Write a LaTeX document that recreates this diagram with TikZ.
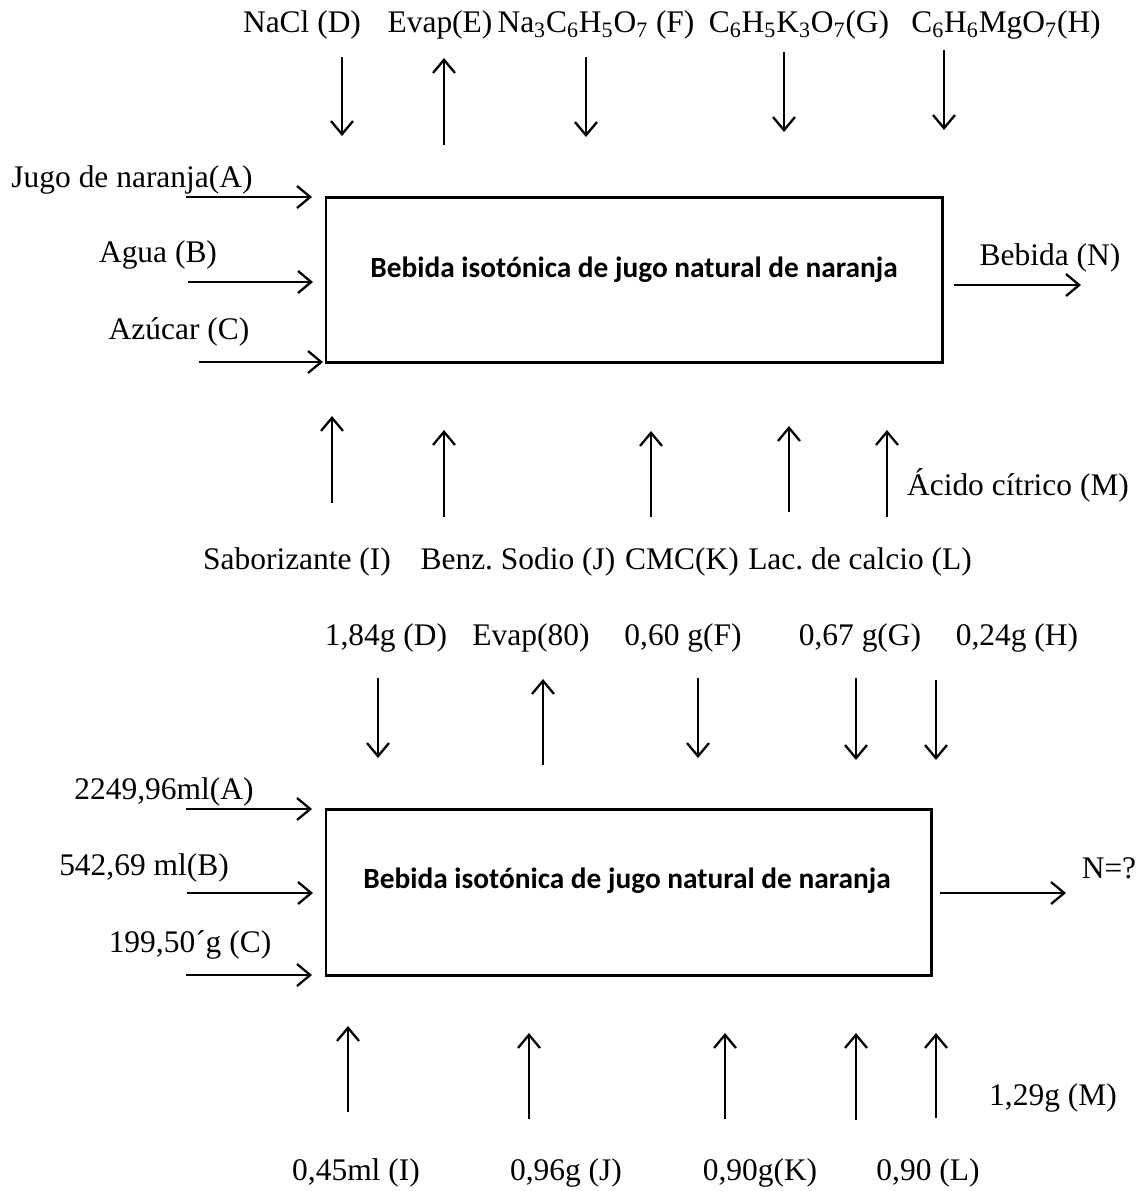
\documentclass[tikz,border=0pt]{standalone}
\usepackage{fontspec}
\setmainfont{Liberation Serif}
\newfontfamily\boxfont{Carlito}
\usetikzlibrary{arrows.meta}
\frenchspacing

\begin{document}
\begin{tikzpicture}
  [x=0.02cm, y=-0.02cm,
   lbl/.style={inner sep=0pt, font=\fontsize{17.9}{20}\selectfont},
   procbox/.style={draw=black, line width=1.7pt, inner sep=0pt},
   title/.style={inner sep=0pt, font=\boxfont\bfseries\fontsize{16.7}{19}\selectfont},
   flow/.style={line width=1.3pt, -{Straight Barb[length=7.5pt, width=12.5pt, line width=1.3pt]}}]

  \useasboundingbox (0,0) rectangle (1139,1191);

  % first balance: names
  \node[lbl] (tD) at (302,25) {NaCl (D)};
  \node[lbl] (tE) at (440,25) {Evap(E)};
  \node[lbl] (tF) at (596,25) {Na\textsubscript{3}C\textsubscript{6}H\textsubscript{5}O\textsubscript{7} (F)};
  \node[lbl] (tG) at (799,25) {C\textsubscript{6}H\textsubscript{5}K\textsubscript{3}O\textsubscript{7}(G)};
  \node[lbl] (tH) at (1006,25) {C\textsubscript{6}H\textsubscript{6}MgO\textsubscript{7}(H)};

  \node[lbl] (tA) at (132,180) {Jugo de naranja(A)};
  \node[lbl] (tB) at (158,255) {Agua (B)};
  \node[lbl] (tC) at (179,332) {Azúcar (C)};
  \node[lbl] (tN) at (1050,258) {Bebida (N)};

  \node[procbox, minimum width=616*0.02cm, minimum height=165*0.02cm] (box1) at (634,279.5) {};
  \node[title] (ttl1) at (634,270) {Bebida isotónica de jugo natural de naranja};

  \node[lbl] (tI) at (297,562) {Saborizante (I)};
  \node[lbl] (tJ) at (518,562) {Benz. Sodio (J)};
  \node[lbl] (tK) at (682,562) {CMC(K)};
  \node[lbl] (tL) at (860,562) {Lac. de calcio (L)};
  \node[lbl] (tM) at (1018,485) {Ácido cítrico (M)};

  % second balance: amounts
  \node[lbl] (qD) at (386,638) {1,84g (D)};
  \node[lbl] (qE) at (531,638) {Evap(80)};
  \node[lbl] (qF) at (683,638) {0,60 g(F)};
  \node[lbl] (qG) at (860,638) {0,67 g(G)};
  \node[lbl] (qH) at (1017,638) {0,24g (H)};

  \node[lbl] (qA) at (164,792) {2249,96ml(A)};
  \node[lbl] (qB) at (144,868) {542,69 ml(B)};
  \node[lbl] (qC) at (190,945) {199,50´g (C)};
  \node[lbl] (qN) at (1109,868) {N=?};

  \node[procbox, minimum width=605*0.02cm, minimum height=166*0.02cm] (box2) at (628.5,892) {};
  \node[title] (ttl2) at (627,881) {Bebida isotónica de jugo natural de naranja};

  \node[lbl] (qI) at (356,1173) {0,45ml (I)};
  \node[lbl] (qJ) at (566,1173) {0,96g (J)};
  \node[lbl] (qK) at (760,1173) {0,90g(K)};
  \node[lbl] (qL) at (928,1173) {0,90 (L)};
  \node[lbl] (qM) at (1053,1098) {1,29g (M)};

  % vertical streams
  \foreach \n/\x/\ya/\yb in {aD/342/57/136, aE/444/145/58, aF/586/57/137, aG/784/52/132, aH/944/50/130,
                             aI/332/503/416, aJ/444/517/430, aK/651/517/431, aL/789/512/426, aM/887/517/430,
                             bD/378/678/758, bE/543/765/679, bF/698/678/758, bG/856/678/760, bH/936/680/760,
                             bI/348/1112/1026, bJ/529/1119/1033, bK/725/1119/1033, bL/856/1120/1033, bM/936/1118/1033}
  {
    \coordinate (\n s) at (\x,\ya);
    \coordinate (\n e) at (\x,\yb);
    \draw[flow] (\n s) -- (\n e);
  }

  % horizontal streams
  \foreach \n/\xa/\xb/\y in {aA/186/312/197, aB/188/313/282, aC/199/323/362, aN/954/1081/285,
                             bA/186/312/809, bB/187/313/893, bC/186/312/975, bN/940/1066/893}
  {
    \coordinate (\n s) at (\xa,\y);
    \coordinate (\n e) at (\xb,\y);
    \draw[flow] (\n s) -- (\n e);
  }
\end{tikzpicture}
\end{document}
